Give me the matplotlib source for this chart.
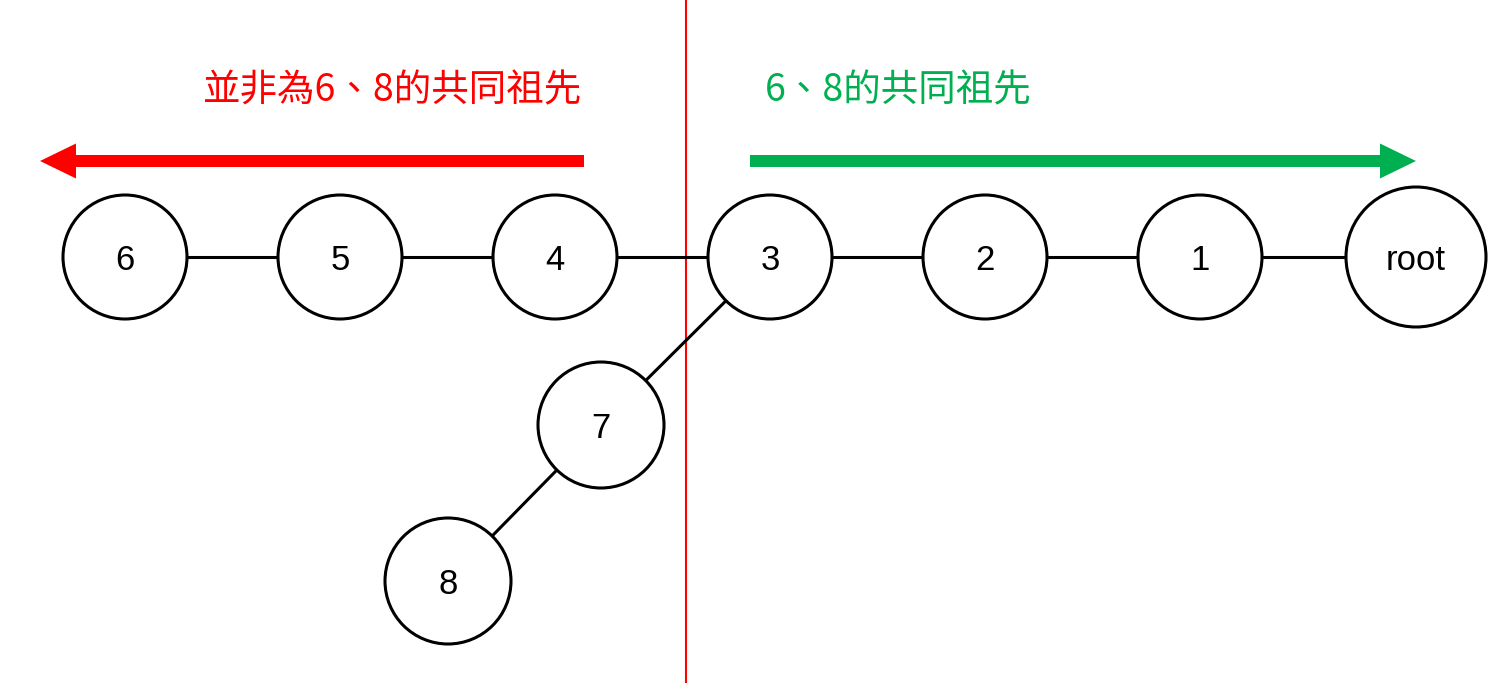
import matplotlib
matplotlib.use("Agg")
import matplotlib.pyplot as plt
from matplotlib.patches import Circle, FancyArrow

# ---- data ----
node_labels = ["6", "5", "4", "3", "2", "1", "root", "7", "8"]
node_x = [125, 340, 555, 770, 985, 1200, 1416, 601, 448]
node_y = [257, 257, 257, 257, 257, 257, 257, 425, 581]
node_r = [62, 62, 62, 62, 62, 62, 70, 63, 63]
edges = [("6", "5"), ("5", "4"), ("4", "3"), ("3", "2"), ("2", "1"),
         ("1", "root"), ("3", "7"), ("7", "8")]

left_text = "並非為6、8的共同祖先"
right_text = "6、8的共同祖先"
red = "#FF0000"
green = "#00B050"

W, H = 1489, 683
fig = plt.figure(figsize=(W / 100, H / 100), dpi=100)
ax = fig.add_axes([0, 0, 1, 1])
ax.set_xlim(0, W)
ax.set_ylim(H, 0)
ax.axis("off")

pos = {lab: (x, y) for lab, x, y in zip(node_labels, node_x, node_y)}

# edges
for a, b in edges:
    (x1, y1), (x2, y2) = pos[a], pos[b]
    ax.plot([x1, x2], [y1, y2], color="black", lw=2.2, zorder=1,
            solid_capstyle="butt")

# divider line
ax.plot([686, 686], [0, 683], color=red, lw=1.5, zorder=0.5)

# nodes
for lab, x, y, r in zip(node_labels, node_x, node_y, node_r):
    ax.add_patch(Circle((x, y), r, facecolor="white", edgecolor="black",
                        lw=2.2, zorder=2))
    ax.text(x, y + 13, lab, ha="center", va="baseline", fontsize=25,
            family=["Liberation Sans", "DejaVu Sans"], zorder=3)

# arrows
ax.add_patch(FancyArrow(584, 161, 40 - 584, 0, width=12, head_width=35,
                        head_length=36, length_includes_head=True,
                        color=red, lw=0, zorder=2))
ax.add_patch(FancyArrow(750, 161, 1416 - 750, 0, width=12, head_width=35,
                        head_length=36, length_includes_head=True,
                        color=green, lw=0, zorder=2))

# labels
cjk = ["Noto Sans CJK TC", "DejaVu Sans"]
ax.text(393, 91, left_text, ha="center", va="center", fontsize=27,
        color=red, family=cjk)
ax.text(898, 91, right_text, ha="center", va="center", fontsize=27,
        color=green, family=cjk)

fig.savefig("out.png", dpi=100, facecolor="white")
